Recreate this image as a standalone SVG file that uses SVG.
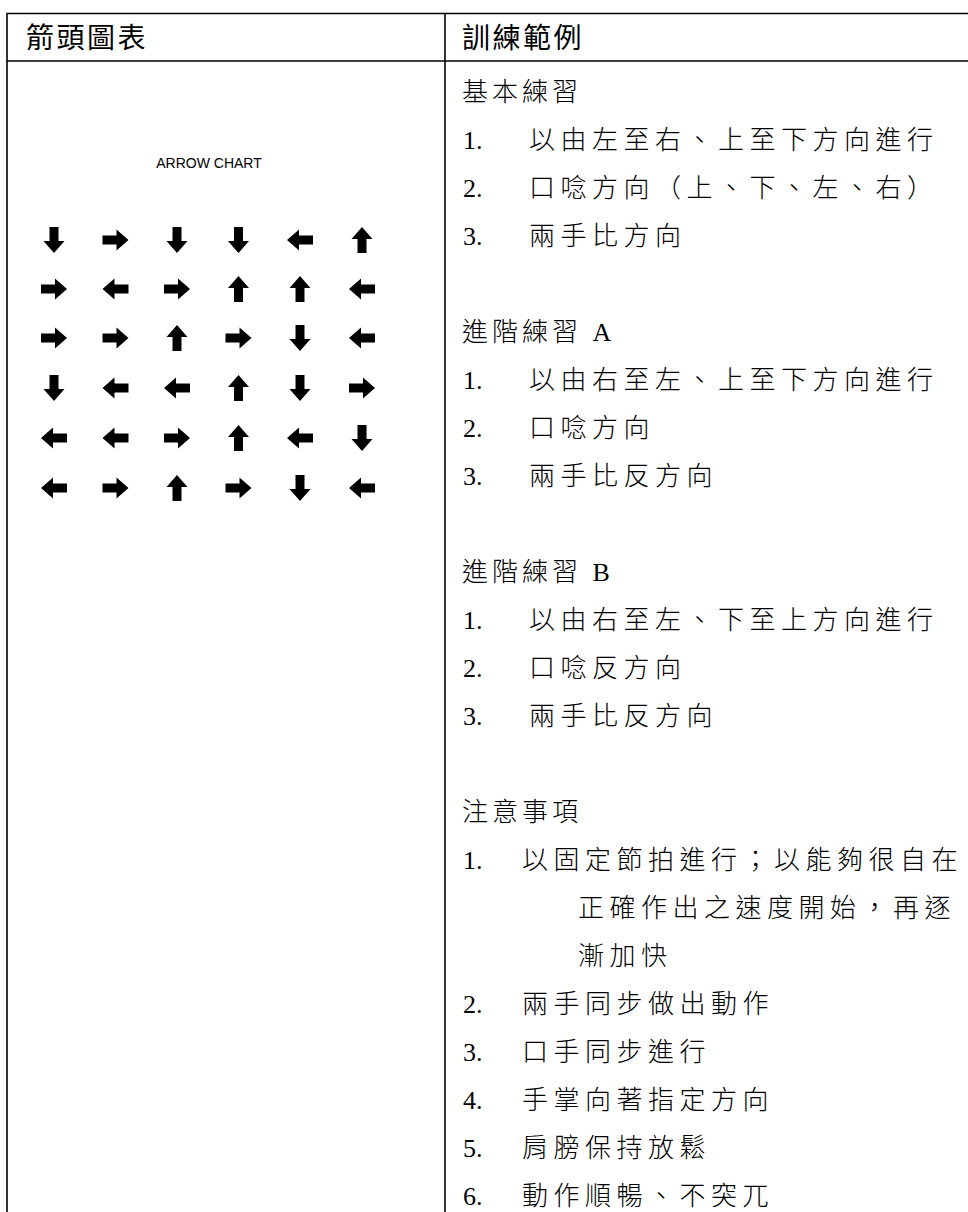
<svg xmlns="http://www.w3.org/2000/svg" xmlns:xlink="http://www.w3.org/1999/xlink" width="968" height="1212" viewBox="0 0 968 1212">
<style>
.rule{stroke:#000;stroke-width:1.6;fill:none}
.hd{font-family:"Noto Sans CJK TC",sans-serif;font-size:28px;letter-spacing:2.5px;fill:#000}
.sec{font-family:"Liberation Serif","Noto Sans CJK TC",serif;font-size:26px;font-weight:300;letter-spacing:4px;fill:#000}
.num{font-family:"Liberation Serif",serif;font-size:26px;fill:#000}
.itm{font-family:"Liberation Serif","Noto Sans CJK TC",serif;font-size:26px;font-weight:300;letter-spacing:5.5px;fill:#000}
.cap{font-family:"Liberation Sans",Arial,sans-serif;font-size:14px;fill:#000}
</style>
<defs>
<path id="ar" d="M-13,-4.5 H1 V-10.5 L13,0 L1,10.5 V4.5 H-13 Z" fill="#000"/>
</defs>
<rect width="968" height="1212" fill="#fff"/>
<g id="table">
<line class="rule" x1="7" y1="13.5" x2="968" y2="13.5"/>
<line class="rule" x1="7" y1="61" x2="968" y2="61"/>
<line class="rule" x1="7" y1="13" x2="7" y2="1212"/>
<line class="rule" x1="445" y1="13" x2="445" y2="1212"/>
</g>
<g id="header">
<text class="hd" x="26" y="48">箭頭圖表</text>
<text class="hd" x="462" y="48">訓練範例</text>
</g>
<g id="arrow-chart">
<text class="cap" x="209" y="168" text-anchor="middle">ARROW CHART</text>
<use xlink:href="#ar" transform="translate(54,240) rotate(90)"/>
<use xlink:href="#ar" transform="translate(115.5,240)"/>
<use xlink:href="#ar" transform="translate(177,240) rotate(90)"/>
<use xlink:href="#ar" transform="translate(238.5,240) rotate(90)"/>
<use xlink:href="#ar" transform="translate(300,240) rotate(180)"/>
<use xlink:href="#ar" transform="translate(362,240) rotate(-90)"/>
<use xlink:href="#ar" transform="translate(54,289)"/>
<use xlink:href="#ar" transform="translate(115.5,289) rotate(180)"/>
<use xlink:href="#ar" transform="translate(177,289)"/>
<use xlink:href="#ar" transform="translate(238.5,289) rotate(-90)"/>
<use xlink:href="#ar" transform="translate(300,289) rotate(-90)"/>
<use xlink:href="#ar" transform="translate(362,289) rotate(180)"/>
<use xlink:href="#ar" transform="translate(54,338)"/>
<use xlink:href="#ar" transform="translate(115.5,338)"/>
<use xlink:href="#ar" transform="translate(177,338) rotate(-90)"/>
<use xlink:href="#ar" transform="translate(238.5,338)"/>
<use xlink:href="#ar" transform="translate(300,338) rotate(90)"/>
<use xlink:href="#ar" transform="translate(362,338) rotate(180)"/>
<use xlink:href="#ar" transform="translate(54,388) rotate(90)"/>
<use xlink:href="#ar" transform="translate(115.5,388) rotate(180)"/>
<use xlink:href="#ar" transform="translate(177,388) rotate(180)"/>
<use xlink:href="#ar" transform="translate(238.5,388) rotate(-90)"/>
<use xlink:href="#ar" transform="translate(300,388) rotate(90)"/>
<use xlink:href="#ar" transform="translate(362,388)"/>
<use xlink:href="#ar" transform="translate(54,438) rotate(180)"/>
<use xlink:href="#ar" transform="translate(115.5,438) rotate(180)"/>
<use xlink:href="#ar" transform="translate(177,438)"/>
<use xlink:href="#ar" transform="translate(238.5,438) rotate(-90)"/>
<use xlink:href="#ar" transform="translate(300,438) rotate(180)"/>
<use xlink:href="#ar" transform="translate(362,438) rotate(90)"/>
<use xlink:href="#ar" transform="translate(54,488) rotate(180)"/>
<use xlink:href="#ar" transform="translate(115.5,488)"/>
<use xlink:href="#ar" transform="translate(177,488) rotate(-90)"/>
<use xlink:href="#ar" transform="translate(238.5,488)"/>
<use xlink:href="#ar" transform="translate(300,488) rotate(90)"/>
<use xlink:href="#ar" transform="translate(362,488) rotate(180)"/>
</g>
<g id="basic">
<text class="sec" x="462" y="101">基本練習</text>
<text class="num" x="463" y="149">1.</text><text class="itm" x="529" y="149">以由左至右、上至下方向進行</text>
<text class="num" x="463" y="197">2.</text><text class="itm" x="529" y="197">口唸方向（上、下、左、右）</text>
<text class="num" x="463" y="245">3.</text><text class="itm" x="529" y="245">兩手比方向</text>
</g>
<g id="advanced-a">
<text class="sec" x="462" y="341">進階練習 A</text>
<text class="num" x="463" y="389">1.</text><text class="itm" x="529" y="389">以由右至左、上至下方向進行</text>
<text class="num" x="463" y="437">2.</text><text class="itm" x="529" y="437">口唸方向</text>
<text class="num" x="463" y="485">3.</text><text class="itm" x="529" y="485">兩手比反方向</text>
</g>
<g id="advanced-b">
<text class="sec" x="462" y="581">進階練習 B</text>
<text class="num" x="463" y="629">1.</text><text class="itm" x="529" y="629">以由右至左、下至上方向進行</text>
<text class="num" x="463" y="677">2.</text><text class="itm" x="529" y="677">口唸反方向</text>
<text class="num" x="463" y="725">3.</text><text class="itm" x="529" y="725">兩手比反方向</text>
</g>
<g id="notes">
<text class="sec" x="462" y="821">注意事項</text>
<text class="num" x="463" y="869">1.</text><text class="itm" x="522" y="869">以固定節拍進行；以能夠很自在</text>
<text class="itm" x="578" y="917">正確作出之速度開始，再逐</text>
<text class="itm" x="578" y="965">漸加快</text>
<text class="num" x="463" y="1013">2.</text><text class="itm" x="522" y="1013">兩手同步做出動作</text>
<text class="num" x="463" y="1061">3.</text><text class="itm" x="522" y="1061">口手同步進行</text>
<text class="num" x="463" y="1109">4.</text><text class="itm" x="522" y="1109">手掌向著指定方向</text>
<text class="num" x="463" y="1157">5.</text><text class="itm" x="522" y="1157">肩膀保持放鬆</text>
<text class="num" x="463" y="1205">6.</text><text class="itm" x="522" y="1205">動作順暢、不突兀</text>
</g>
</svg>
